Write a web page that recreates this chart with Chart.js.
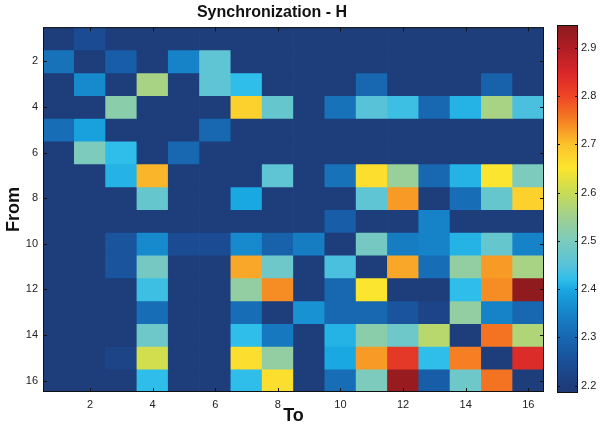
<!DOCTYPE html>
<html>
<head>
<meta charset="utf-8">
<script src="https://cdn.jsdelivr.net/npm/chart.js@4.4.1/dist/chart.umd.min.js"></script>
<style>
  body { margin: 0; background: #fff; }
  #wrap { position: relative; width: 602px; height: 429px; }
  #main { position: absolute; left: 0; top: 0; width: 602px; height: 429px; }
  #bar { position: absolute; left: 545px; top: 0; width: 57px; height: 429px; }
</style>
</head>
<body>
<div id="wrap">
  <div id="main"><canvas id="sync-chart"></canvas></div>
  <div id="bar"><canvas id="sync-colorbar"></canvas></div>
</div>
<script>
// data
var toNodes = [1, 2, 3, 4, 5, 6, 7, 8, 9, 10, 11, 12, 13, 14, 15, 16];
var fromNodes = [1, 2, 3, 4, 5, 6, 7, 8, 9, 10, 11, 12, 13, 14, 15, 16];
var xTicks = [2, 4, 6, 8, 10, 12, 14, 16];
var yTicks = [2, 4, 6, 8, 10, 12, 14, 16];
var cbTicks = [2.2, 2.3, 2.4, 2.5, 2.6, 2.7, 2.8, 2.9];
var cMin = 2.185, cMax = 2.947;

// synchronization values, one row per "From" node
var syncH = [
    [2.20, 2.24, 2.20, 2.20, 2.20, 2.20, 2.20, 2.20, 2.20, 2.20, 2.20, 2.20, 2.20, 2.20, 2.20, 2.20],
    [2.32, 2.20, 2.28, 2.20, 2.35, 2.46, 2.20, 2.20, 2.20, 2.20, 2.20, 2.20, 2.20, 2.20, 2.20, 2.20],
    [2.20, 2.36, 2.20, 2.56, 2.20, 2.46, 2.42, 2.20, 2.20, 2.20, 2.30, 2.20, 2.20, 2.20, 2.29, 2.20],
    [2.20, 2.20, 2.52, 2.20, 2.20, 2.20, 2.68, 2.47, 2.20, 2.32, 2.45, 2.43, 2.30, 2.41, 2.56, 2.44],
    [2.31, 2.39, 2.20, 2.20, 2.20, 2.30, 2.20, 2.20, 2.20, 2.20, 2.20, 2.20, 2.20, 2.20, 2.20, 2.20],
    [2.20, 2.50, 2.42, 2.20, 2.30, 2.20, 2.20, 2.20, 2.20, 2.20, 2.20, 2.20, 2.20, 2.20, 2.20, 2.20],
    [2.20, 2.20, 2.41, 2.71, 2.20, 2.20, 2.20, 2.46, 2.20, 2.32, 2.66, 2.54, 2.30, 2.41, 2.65, 2.50],
    [2.20, 2.20, 2.20, 2.47, 2.20, 2.20, 2.40, 2.20, 2.20, 2.20, 2.46, 2.73, 2.20, 2.31, 2.47, 2.68],
    [2.20, 2.20, 2.20, 2.20, 2.20, 2.20, 2.20, 2.20, 2.20, 2.28, 2.20, 2.20, 2.35, 2.20, 2.20, 2.20],
    [2.20, 2.20, 2.26, 2.36, 2.24, 2.24, 2.36, 2.29, 2.34, 2.20, 2.49, 2.34, 2.35, 2.41, 2.47, 2.35],
    [2.20, 2.20, 2.26, 2.49, 2.20, 2.20, 2.72, 2.48, 2.20, 2.44, 2.20, 2.72, 2.31, 2.53, 2.73, 2.56],
    [2.20, 2.20, 2.20, 2.43, 2.20, 2.20, 2.53, 2.74, 2.20, 2.30, 2.65, 2.20, 2.20, 2.42, 2.74, 2.94],
    [2.20, 2.20, 2.20, 2.31, 2.20, 2.20, 2.31, 2.20, 2.37, 2.30, 2.30, 2.26, 2.22, 2.53, 2.35, 2.30],
    [2.20, 2.20, 2.20, 2.48, 2.20, 2.20, 2.42, 2.33, 2.20, 2.41, 2.52, 2.48, 2.58, 2.20, 2.76, 2.57],
    [2.20, 2.20, 2.22, 2.61, 2.20, 2.20, 2.66, 2.53, 2.20, 2.40, 2.73, 2.82, 2.42, 2.75, 2.20, 2.84],
    [2.20, 2.20, 2.20, 2.42, 2.20, 2.20, 2.42, 2.66, 2.20, 2.31, 2.50, 2.93, 2.28, 2.48, 2.76, 2.20]
];

// colour map
var cmapVals = [2.185, 2.20, 2.25, 2.30, 2.35, 2.40, 2.42, 2.45, 2.50, 2.55, 2.60, 2.65, 2.70, 2.75, 2.80, 2.85, 2.90, 2.947];
var cmapCols = ['#1e3a74', '#1d3d7b', '#1a4f98', '#1767b1', '#1683c8', '#1aa8e2', '#2fbde9', '#58c2d8', '#7ccbbd', '#a0d090',
                '#c8dc55', '#fbe52e', '#fcc22c', '#f57f22', '#ee4526', '#d8262a', '#b01e24', '#8a1a1e'];

function hexToRgb(h) {
    return [parseInt(h.substr(1, 2), 16), parseInt(h.substr(3, 2), 16), parseInt(h.substr(5, 2), 16)];
}
function colorFor(v) {
    if (v <= cmapVals[0]) return cmapCols[0];
    for (var i = 1; i < cmapVals.length; i++) {
        if (v <= cmapVals[i]) {
            var t = (v - cmapVals[i - 1]) / (cmapVals[i] - cmapVals[i - 1]);
            var a = hexToRgb(cmapCols[i - 1]), b = hexToRgb(cmapCols[i]);
            return 'rgb(' + Math.round(a[0] + (b[0] - a[0]) * t) + ',' + Math.round(a[1] + (b[1] - a[1]) * t) + ',' + Math.round(a[2] + (b[2] - a[2]) * t) + ')';
        }
    }
    return cmapCols[cmapCols.length - 1];
}

Chart.defaults.font.family = '"Liberation Sans", Arial, sans-serif';
Chart.defaults.font.size = 11;
Chart.defaults.color = '#222';

// matlab style frame with inward ticks
var frameTicks = {
    id: 'frameTicks',
    afterDraw: function (chart, args, opts) {
        var ctx = chart.ctx, a = chart.chartArea;
        var x = chart.scales.x, y = chart.scales.y;
        ctx.save();
        ctx.strokeStyle = '#111';
        ctx.lineWidth = 1;
        ctx.strokeRect(a.left + 0.5, a.top + 0.5, a.right - a.left - 1, a.bottom - a.top - 1);
        ctx.beginPath();
        (opts.xt || []).forEach(function (t) {
            var px = Math.round(x.getPixelForValue(t)) + 0.5;
            ctx.moveTo(px, a.top); ctx.lineTo(px, a.top + 4);
            ctx.moveTo(px, a.bottom); ctx.lineTo(px, a.bottom - 4);
        });
        (opts.yt || []).forEach(function (t) {
            var py = Math.round(y.getPixelForValue(t)) + 0.5;
            ctx.moveTo(a.left, py); ctx.lineTo(a.left + 4, py);
            ctx.moveTo(a.right, py); ctx.lineTo(a.right - 4, py);
        });
        ctx.stroke();
        ctx.restore();
    }
};

var datasets = fromNodes.map(function (r, i) {
    return {
        label: 'From ' + r,
        data: toNodes.map(function (c) { return { x: c, y: [r - 0.5, r + 0.5] }; }),
        backgroundColor: syncH[i].map(colorFor),
        borderWidth: 0,
        barPercentage: 1,
        categoryPercentage: 1,
        grouped: false
    };
});

new Chart(document.getElementById('sync-chart'), {
    type: 'bar',
    data: { datasets: datasets },
    options: {
        responsive: true,
        maintainAspectRatio: false,
        animation: false,
        layout: { padding: { left: 0, right: 58, top: 0, bottom: 0 } },
        plugins: {
            legend: { display: false },
            tooltip: { enabled: false },
            title: {
                display: true,
                text: 'Synchronization - H',
                color: '#111',
                font: { size: 16, weight: 'bold' },
                padding: { top: 3, bottom: 5 }
            },
            frameTicks: { xt: xTicks, yt: yTicks }
        },
        scales: {
            x: {
                type: 'linear',
                min: 0.5,
                max: 16.5,
                offset: false,
                grid: { display: false, drawTicks: false, offset: false },
                border: { display: false },
                afterBuildTicks: function (s) { s.ticks = xTicks.map(function (v) { return { value: v }; }); },
                afterFit: function (s) { s.height = 37; },
                ticks: { padding: 6, maxRotation: 0 },
                title: { display: true, text: 'To', color: '#111', font: { size: 18, weight: 'bold' }, padding: { top: 0, bottom: 2 } }
            },
            y: {
                type: 'linear',
                reverse: true,
                min: 0.5,
                max: 16.5,
                grid: { display: false, drawTicks: false },
                border: { display: false },
                afterBuildTicks: function (s) { s.ticks = yTicks.map(function (v) { return { value: v }; }); },
                afterFit: function (s) { s.width = 43; },
                ticks: { padding: 5 },
                title: { display: true, text: 'From', color: '#111', font: { size: 18, weight: 'bold' }, padding: { top: 3, bottom: 0 } }
            }
        }
    },
    plugins: [frameTicks]
});

// colour bar
var cbFrame = {
    id: 'cbFrame',
    afterDraw: function (chart, args, opts) {
        var ctx = chart.ctx, a = chart.chartArea, y = chart.scales.y;
        ctx.save();
        ctx.strokeStyle = '#111';
        ctx.lineWidth = 1;
        ctx.strokeRect(a.left + 0.5, a.top + 0.5, a.right - a.left - 1, a.bottom - a.top - 1);
        ctx.beginPath();
        (opts.yt || []).forEach(function (t) {
            var py = Math.round(y.getPixelForValue(t)) + 0.5;
            ctx.moveTo(a.left, py); ctx.lineTo(a.left + 3, py);
            ctx.moveTo(a.right, py); ctx.lineTo(a.right - 3, py);
        });
        ctx.stroke();
        ctx.restore();
    }
};

new Chart(document.getElementById('sync-colorbar'), {
    type: 'bar',
    data: {
        labels: ['H'],
        datasets: [{
            data: [[cMin, cMax]],
            backgroundColor: function (c) {
                var chart = c.chart, a = chart.chartArea;
                if (!a) return null;
                var y = chart.scales.y;
                var g = chart.ctx.createLinearGradient(0, y.getPixelForValue(cMin), 0, y.getPixelForValue(cMax));
                cmapVals.forEach(function (v, i) {
                    g.addColorStop(Math.min(1, Math.max(0, (v - cMin) / (cMax - cMin))), cmapCols[i]);
                });
                return g;
            },
            borderWidth: 0,
            barPercentage: 1,
            categoryPercentage: 1
        }]
    },
    options: {
        responsive: true,
        maintainAspectRatio: false,
        animation: false,
        layout: { padding: { left: 12, right: 0, top: 25, bottom: 36 } },
        plugins: {
            legend: { display: false },
            tooltip: { enabled: false },
            cbFrame: { yt: cbTicks }
        },
        scales: {
            x: { display: false },
            y: {
                position: 'right',
                min: cMin,
                max: cMax,
                grid: { display: false, drawTicks: false },
                border: { display: false },
                afterBuildTicks: function (s) { s.ticks = cbTicks.map(function (v) { return { value: v }; }); },
                afterFit: function (s) { s.width = 24; },
                ticks: { padding: 3, callback: function (v) { return v.toFixed(1); } }
            }
        }
    },
    plugins: [cbFrame]
});
</script>
</body>
</html>
